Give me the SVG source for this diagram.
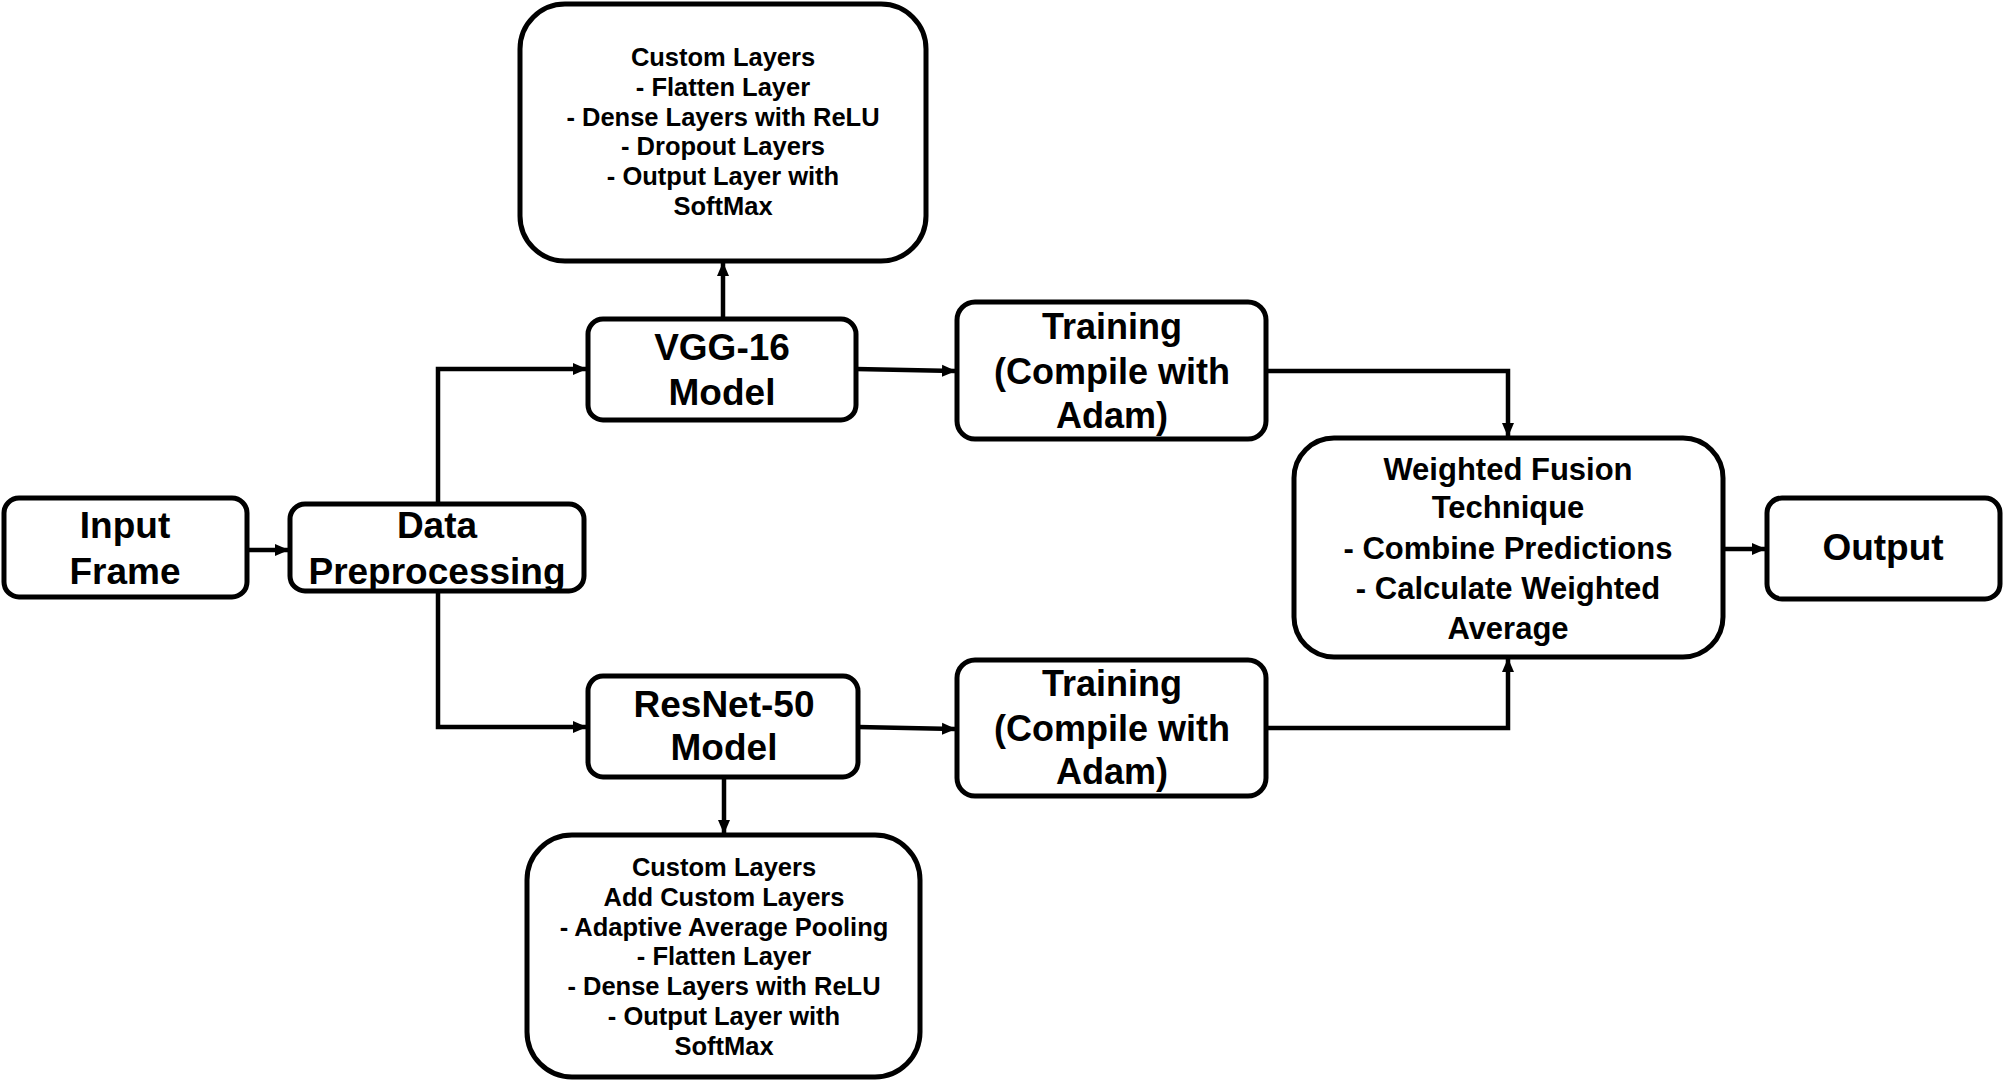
<svg xmlns="http://www.w3.org/2000/svg" width="2005" height="1081" viewBox="0 0 2005 1081">
<defs>
<marker id="ah" markerUnits="userSpaceOnUse" markerWidth="14" markerHeight="14" viewBox="0 0 14 14" refX="13" refY="7" orient="auto">
<path d="M0,1 L14,7 L0,13 Z" fill="#000"/>
</marker>
<style>
.box{fill:#fff;stroke:#000;stroke-width:5}
.t{font-family:"Liberation Sans",Arial,sans-serif;font-weight:bold;text-anchor:middle;fill:#000}
.big{font-size:37px}
.mid{font-size:36px}
.fus{font-size:31px}
.sm{font-size:25.5px}
.c{fill:none;stroke:#000;stroke-width:4.5}
</style>
</defs>
<rect width="2005" height="1081" fill="#fff"/>
<g id="connectors">
<path class="c" d="M247,550 L288,550" marker-end="url(#ah)"/>
<path class="c" d="M438,504 L438,369 L586,369" marker-end="url(#ah)"/>
<path class="c" d="M438,591 L438,727 L586,727" marker-end="url(#ah)"/>
<path class="c" d="M723,319 L723,263" marker-end="url(#ah)"/>
<path class="c" d="M724,777 L724,833" marker-end="url(#ah)"/>
<path class="c" d="M856,369 L955,371" marker-end="url(#ah)"/>
<path class="c" d="M858,727 L955,729" marker-end="url(#ah)"/>
<path class="c" d="M1266,371 L1508,371 L1508,436" marker-end="url(#ah)"/>
<path class="c" d="M1266,728 L1508,728 L1508,659" marker-end="url(#ah)"/>
<path class="c" d="M1723,549 L1765,549" marker-end="url(#ah)"/>
</g>
<g id="custom-vgg">
<rect class="box" x="520" y="4" width="406" height="257" rx="45"/>
<text class="t sm" x="723" y="66">Custom Layers</text>
<text class="t sm" x="723" y="96">- Flatten Layer</text>
<text class="t sm" x="723" y="126">- Dense Layers with ReLU</text>
<text class="t sm" x="723" y="155">- Dropout Layers</text>
<text class="t sm" x="723" y="185">- Output Layer with</text>
<text class="t sm" x="723" y="215">SoftMax</text>
</g>
<g id="vgg16">
<rect class="box" x="588" y="319" width="268" height="101" rx="15"/>
<text class="t big" x="722" y="360">VGG-16</text>
<text class="t big" x="722" y="405">Model</text>
</g>
<g id="input">
<rect class="box" x="4" y="498" width="243" height="99" rx="15"/>
<text class="t big" x="125" y="538">Input</text>
<text class="t big" x="125" y="584">Frame</text>
</g>
<g id="preprocessing">
<rect class="box" x="290" y="504" width="294" height="87" rx="15"/>
<text class="t big" x="437" y="538">Data</text>
<text class="t big" x="437" y="584">Preprocessing</text>
</g>
<g id="training-vgg">
<rect class="box" x="957" y="302" width="309" height="137" rx="18"/>
<text class="t mid" x="1112" y="339">Training</text>
<text class="t mid" x="1112" y="384">(Compile with</text>
<text class="t mid" x="1112" y="428">Adam)</text>
</g>
<g id="fusion">
<rect class="box" x="1294" y="438" width="429" height="219" rx="40"/>
<text class="t fus" x="1508" y="480">Weighted Fusion</text>
<text class="t fus" x="1508" y="518">Technique</text>
<text class="t fus" x="1508" y="559">- Combine Predictions</text>
<text class="t fus" x="1508" y="599">- Calculate Weighted</text>
<text class="t fus" x="1508" y="639">Average</text>
</g>
<g id="output">
<rect class="box" x="1767" y="498" width="233" height="101" rx="15"/>
<text class="t big" x="1883" y="560">Output</text>
</g>
<g id="resnet50">
<rect class="box" x="588" y="676" width="270" height="101" rx="15"/>
<text class="t big" x="724" y="717">ResNet-50</text>
<text class="t big" x="724" y="760">Model</text>
</g>
<g id="training-resnet">
<rect class="box" x="957" y="660" width="309" height="136" rx="18"/>
<text class="t mid" x="1112" y="696">Training</text>
<text class="t mid" x="1112" y="741">(Compile with</text>
<text class="t mid" x="1112" y="784">Adam)</text>
</g>
<g id="custom-resnet">
<rect class="box" x="527" y="835" width="393" height="242" rx="45"/>
<text class="t sm" x="724" y="876">Custom Layers</text>
<text class="t sm" x="724" y="906">Add Custom Layers</text>
<text class="t sm" x="724" y="936">- Adaptive Average Pooling</text>
<text class="t sm" x="724" y="965">- Flatten Layer</text>
<text class="t sm" x="724" y="995">- Dense Layers with ReLU</text>
<text class="t sm" x="724" y="1025">- Output Layer with</text>
<text class="t sm" x="724" y="1055">SoftMax</text>
</g>
</svg>
